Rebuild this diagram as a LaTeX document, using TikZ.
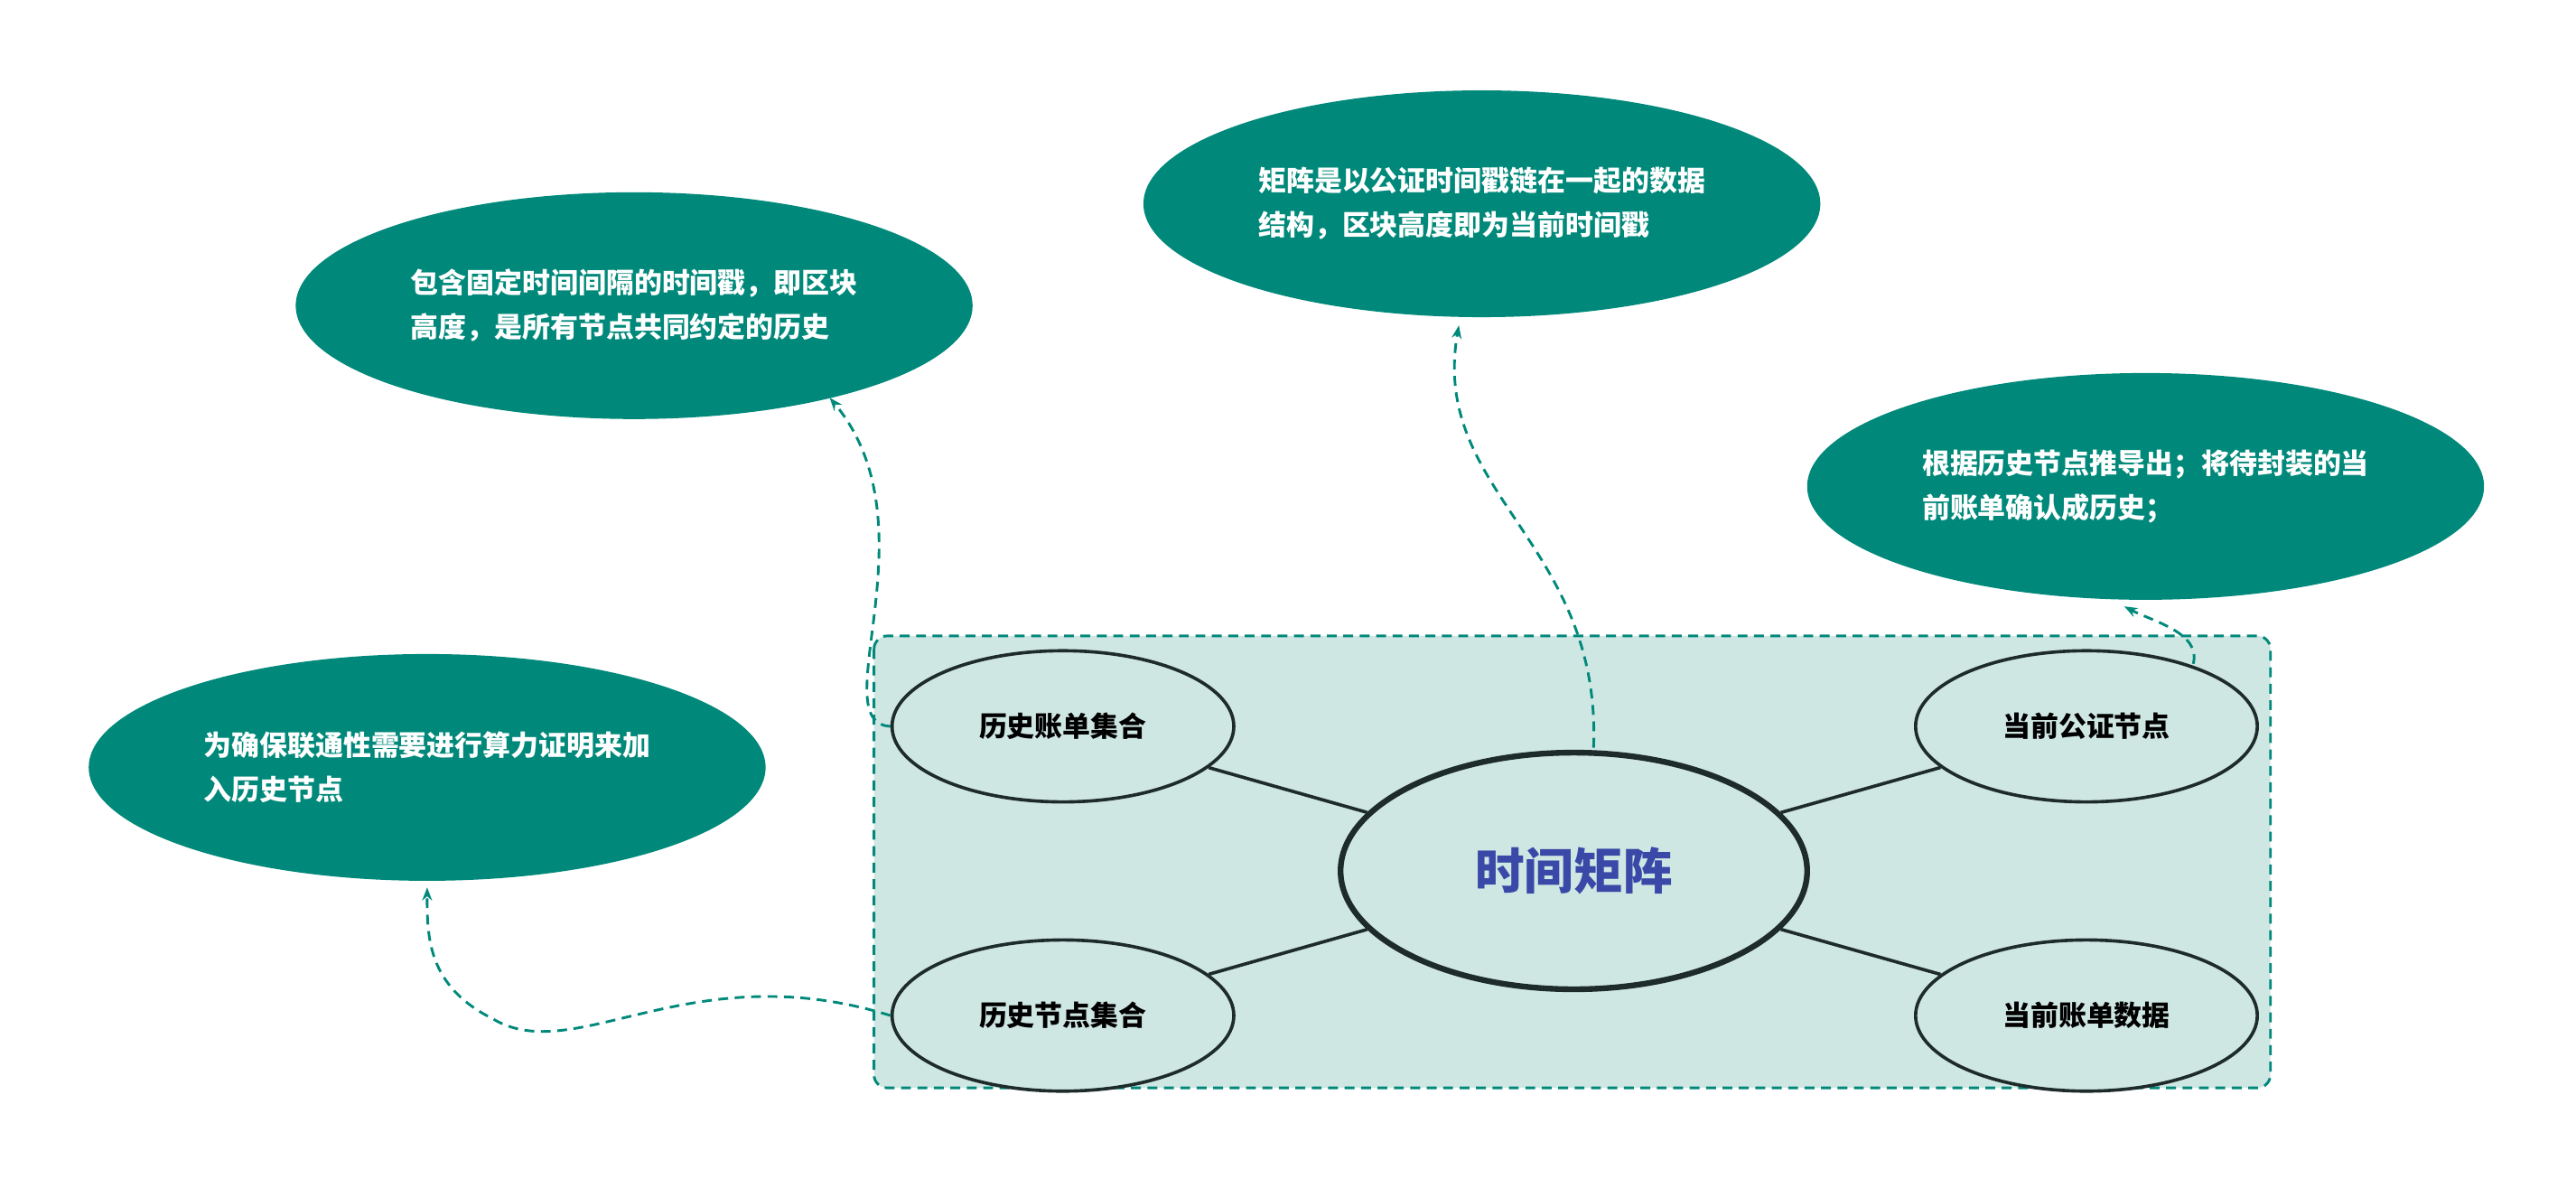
\documentclass[tikz,border=0pt]{standalone}
\usepackage{fontspec}
\setmainfont{Noto Sans CJK SC}
\usetikzlibrary{arrows.meta}
\definecolor{teal1}{HTML}{00897A}
\definecolor{lightbg}{HTML}{CFE7E3}
\definecolor{dk}{HTML}{1E2B2B}
\definecolor{ttl}{HTML}{3A48A8}
\begin{document}
\begin{tikzpicture}[x=1pt,y=-1pt,
 callout/.style={ellipse,fill=teal1,minimum width=412pt,minimum height=138pt,text=white,font=\bfseries\fontsize{17}{27}\selectfont,align=left,inner sep=0pt},
 sub/.style={ellipse,draw=dk,line width=2pt,fill=lightbg,minimum width=208pt,minimum height=92pt,font=\bfseries\fontsize{17}{20}\selectfont,inner sep=0pt},
 link/.style={dk,line width=2pt},
 darr/.style={teal1,dashed,line width=1.6pt,dash pattern=on 6pt off 4pt,-{Stealth[length=8pt]}}]
\usetikzlibrary{shapes.geometric}
\useasboundingbox (0,0) rectangle (1568,717);
\draw[teal1,line width=1.6pt,dash pattern=on 6pt off 4pt,fill=lightbg,rounded corners=8pt] (532,387) rectangle (1382,662);
\node[ellipse,draw=dk,line width=3.5pt,fill=lightbg,minimum width=284pt,minimum height=144pt,text=ttl,font=\bfseries\fontsize{30}{34}\selectfont] (c) at (958,530) {时间矩阵};
\node[sub] (a1) at (647,442) {历史账单集合};
\node[sub] (a2) at (647,618) {历史节点集合};
\node[sub] (b1) at (1270,442) {当前公证节点};
\node[sub] (b2) at (1270,618) {当前账单数据};
\draw[link] (c) -- (a1); \draw[link] (c) -- (a2);
\draw[link] (c) -- (b1); \draw[link] (c) -- (b2);
\node[callout] (A) at (386,186) {包含固定时间间隔的时间戳，即区块\\高度，是所有节点共同约定的历史};
\node[callout] (B) at (902,124) {矩阵是以公证时间戳链在一起的数据\\结构，区块高度即为当前时间戳};
\node[callout] (C) at (1306,296) {根据历史节点推导出；将待封装的当\\前账单确认成历史；};
\node[callout] (D) at (260,467) {为确保联通性需要进行算力证明来加\\入历史节点};
\coordinate (ea) at (505,242);
\coordinate (eb) at (888,198);
\coordinate (ec) at (1293,369);
\coordinate (ed) at (260,540);
\draw[darr] (a1.west) .. controls (500,440) and (570,320) .. (ea);
\draw[darr] (970,455) .. controls (975,330) and (870,300) .. (eb);
\draw[darr] (1335,404) .. controls (1340,385) and (1310,378) .. (ec);
\draw[darr] (a2.west) .. controls (420,580) and (350,650) .. (300,620) .. controls (260,600) and (260,570) .. (ed);
\end{tikzpicture}
\end{document}
